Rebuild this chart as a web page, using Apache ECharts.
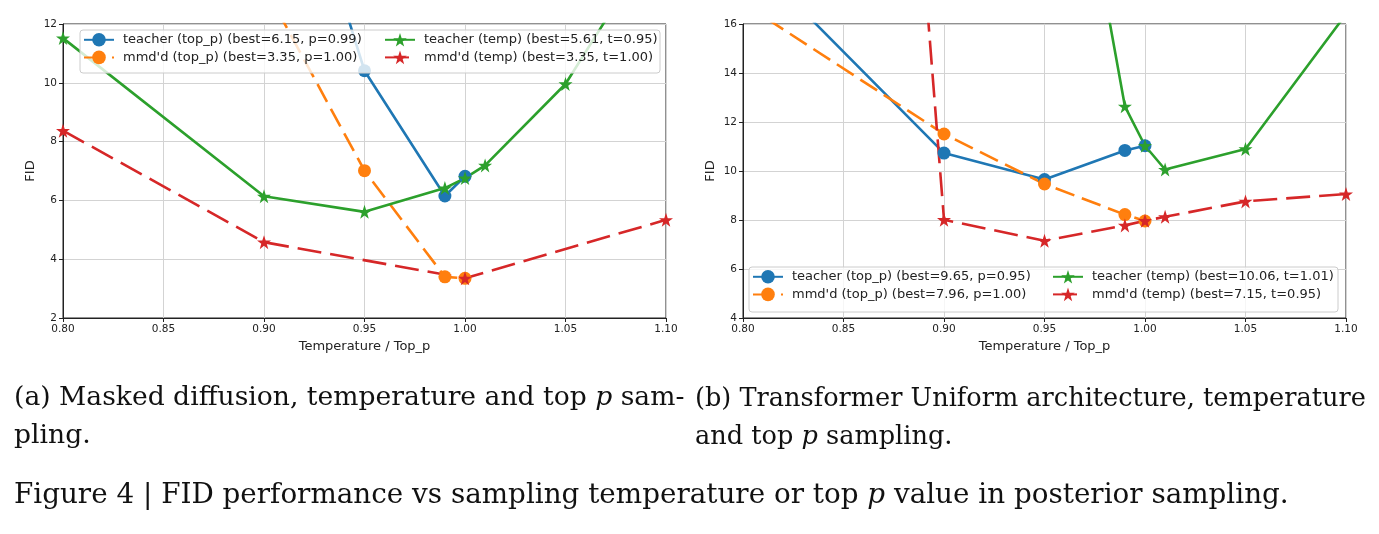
<!DOCTYPE html>
<html>
<head>
<meta charset="utf-8">
<script src="https://cdn.jsdelivr.net/npm/echarts@6/dist/echarts.min.js"></script>
<style>
html,body{margin:0;padding:0;background:#fff;}
#chart{width:1379px;height:534px;}
</style>
</head>
<body>
<div id="chart"></div>
<script>
// ---------- data (x = temperature / top_p, y = FID) ----------
const xTicks = [0.80, 0.85, 0.90, 0.95, 1.00, 1.05, 1.10];

// (a) Masked diffusion
const aTeacherTopP = [[0.90, 21.4], [0.95, 10.41], [0.99, 6.15], [1.00, 6.82]];
const aMmdTopP     = [[0.90, 13.3], [0.95, 7.01], [0.99, 3.40], [1.00, 3.35]];
const aTeacherTemp = [[0.80, 11.52], [0.90, 6.14], [0.95, 5.61], [0.99, 6.42], [1.00, 6.76], [1.01, 7.19], [1.05, 9.96], [1.10, 15.4]];
const aMmdTemp     = [[0.80, 8.37], [0.90, 4.58], [1.00, 3.35], [1.10, 5.34]];

// (b) Transformer Uniform architecture
const bTeacherTopP = [[0.80, 19.0], [0.90, 10.73], [0.95, 9.65], [0.99, 10.84], [1.00, 11.03]];
const bMmdTopP     = [[0.80, 16.85], [0.90, 11.51], [0.95, 9.47], [0.99, 8.22], [1.00, 7.96]];
const bTeacherTemp = [[0.95, 30.8], [0.99, 12.64], [1.00, 11.03], [1.01, 10.06], [1.05, 10.9], [1.10, 16.4]];
const bMmdTemp     = [[0.80, 112], [0.90, 8.01], [0.95, 7.15], [0.99, 7.78], [1.00, 7.97], [1.01, 8.13], [1.05, 8.76], [1.10, 9.06]];

const namesA = ["teacher (top_p) (best=6.15, p=0.99)", "mmd'd (top_p) (best=3.35, p=1.00)",
                "teacher (temp) (best=5.61, t=0.95)", "mmd'd (temp) (best=3.35, t=1.00)"];
const namesB = ["teacher (top_p) (best=9.65, p=0.95)", "mmd'd (top_p) (best=7.96, p=1.00)",
                "teacher (temp) (best=10.06, t=1.01)", "mmd'd (temp) (best=7.15, t=0.95)"];

const captionA1 = "(a) Masked diffusion, temperature and top {i|p} sam-";
const captionA2 = "pling.";
const captionB1 = "(b) Transformer Uniform architecture, temperature";
const captionB2 = "and top {i|p} sampling.";
const captionFig = "Figure 4 | FID performance vs sampling temperature or top {i|p} value in posterior sampling.";

// ---------- styling ----------
const C = {blue: '#1f77b4', orange: '#ff7f0e', green: '#2ca02c', red: '#d62728'};
const STAR = 'path://M50,0 L61.8,35.1 L98.1,35.1 L68.8,56.8 L79.4,91.9 L50,70.2 L20.6,91.9 L31.2,56.8 L1.9,35.1 L38.2,35.1 Z';
const SANS = 'DejaVu Sans';
const SERIF = 'DejaVu Serif';

function mkSeries(name, data, idx, color, symbol, size, dash) {
  return {
    name: name, type: 'line', data: data,
    xAxisIndex: idx, yAxisIndex: idx,
    symbol: symbol, symbolSize: size, showSymbol: true,
    lineStyle: {color: color, width: 2.6, type: dash || 'solid', cap: 'butt'},
    itemStyle: {color: color, borderWidth: 0},
    emphasis: {disabled: true},
    animation: false, clip: true
  };
}

function xAxis(idx) {
  return {
    type: 'value', gridIndex: idx, min: 0.8, max: 1.1, interval: 0.05,
    name: 'Temperature / Top_p', nameLocation: 'middle', nameGap: 20,
    nameTextStyle: {fontFamily: SANS, fontSize: 13, color: '#222'},
    axisLine: {show: true, lineStyle: {color: '#222', width: 1}},
    axisTick: {show: true, length: 4, lineStyle: {color: '#222'}},
    axisLabel: {fontFamily: SANS, fontSize: 10.5, color: '#222', margin: 6,
                formatter: v => v.toFixed(2), showMinLabel: true, showMaxLabel: true},
    splitLine: {show: true, lineStyle: {color: '#d3d3d3', width: 1}}
  };
}
function yAxis(idx, min, max) {
  return {
    type: 'value', gridIndex: idx, min: min, max: max, interval: 2,
    name: 'FID', nameLocation: 'middle', nameGap: 26,
    nameTextStyle: {fontFamily: SANS, fontSize: 13, color: '#222'},
    axisLine: {show: true, lineStyle: {color: '#222', width: 1}},
    axisTick: {show: true, length: 4, lineStyle: {color: '#222'}},
    axisLabel: {fontFamily: SANS, fontSize: 10.5, color: '#222', margin: 6},
    splitLine: {show: true, lineStyle: {color: '#d3d3d3', width: 1}}
  };
}

function legend(data, left, top) {
  return {
    data: data, orient: 'vertical', left: left, top: top,
    itemWidth: 30, itemHeight: 17, itemGap: 4, selectedMode: false,
    padding: 0, z: 8,
    textStyle: {fontFamily: SANS, fontSize: 13, color: '#222', padding: [0, 0, 0, 4]}
  };
}

const richI = (size) => ({i: {fontFamily: SERIF, fontSize: size, fontStyle: 'italic', color: '#111'}});
function caption(text, x, y, size) {
  return {
    type: 'text', left: x, top: y, z: 10,
    style: {text: text, font: size + 'px "' + SERIF + '"', fill: '#111', rich: richI(size)}
  };
}

const chart = echarts.init(document.getElementById('chart'), null, {renderer: 'canvas'});
chart.setOption({
  backgroundColor: '#fff',
  animation: false,
  grid: [
    {left: 63, top: 24, width: 603, height: 294, show: true, borderColor: '#222', borderWidth: 1, backgroundColor: 'transparent'},
    {left: 743, top: 24, width: 603, height: 294, show: true, borderColor: '#222', borderWidth: 1, backgroundColor: 'transparent'}
  ],
  xAxis: [xAxis(0), xAxis(1)],
  yAxis: [yAxis(0, 2, 12), yAxis(1, 4, 16)],
  legend: [
    legend(namesA.slice(0, 2), 83, 33),
    legend(namesA.slice(2, 4), 384, 33),
    legend(namesB.slice(0, 2), 752, 270),
    legend(namesB.slice(2, 4), 1052, 270)
  ],
  series: [
    mkSeries(namesA[0], aTeacherTopP, 0, C.blue, 'circle', 13),
    mkSeries(namesA[1], aMmdTopP, 0, C.orange, 'circle', 13, [20, 8]),
    mkSeries(namesA[2], aTeacherTemp, 0, C.green, STAR, 14),
    mkSeries(namesA[3], aMmdTemp, 0, C.red, STAR, 14, [24, 9]),
    mkSeries(namesB[0], bTeacherTopP, 1, C.blue, 'circle', 13),
    mkSeries(namesB[1], bMmdTopP, 1, C.orange, 'circle', 13, [20, 8]),
    mkSeries(namesB[2], bTeacherTemp, 1, C.green, STAR, 14),
    mkSeries(namesB[3], bMmdTemp, 1, C.red, STAR, 14, [24, 9])
  ],
  graphic: [
    {type: 'rect', z: 6, shape: {x: 80, y: 30, width: 580, height: 43, r: 3},
     style: {fill: 'rgba(255,255,255,0.8)', stroke: '#cccccc', lineWidth: 1}},
    {type: 'rect', z: 6, shape: {x: 749, y: 267, width: 589, height: 45, r: 3},
     style: {fill: 'rgba(255,255,255,0.8)', stroke: '#cccccc', lineWidth: 1}},
    caption(captionA1, 14, 385, 26.6),
    caption(captionA2, 14, 423, 26.6),
    caption(captionB1, 695, 386, 25.6),
    caption(captionB2, 695, 424, 25.6),
    caption(captionFig, 14, 482, 27.8)
  ]
});
</script>
</body>
</html>
